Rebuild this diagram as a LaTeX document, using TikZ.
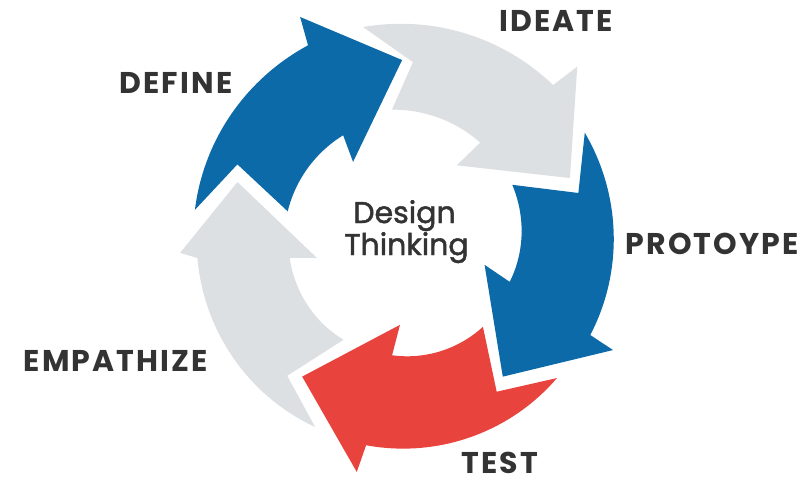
\documentclass[tikz,border=0pt]{standalone}
\usepackage{fontspec}
\setmainfont{Poppins}
\definecolor{bluec}{HTML}{0D6AA8}
\definecolor{redc}{HTML}{E8433C}
\definecolor{grayc}{HTML}{DDE0E3}
\definecolor{txtc}{HTML}{333333}
\tikzset{sarc/.style n args={4}{insert path={-- plot[domain=0:1,samples=40,variable=\s]({(#1)+((#3)-(#1))*\s}:{(#2)+((#4)-(#2))*\s})}}}
\begin{document}
\begin{tikzpicture}[x=1pt,y=1pt,
  lab/.style={text=txtc,font=\fontsize{30}{32}\selectfont\bfseries\addfontfeatures{LetterSpace=7},inner sep=0pt},
  ctr/.style={text=txtc,font=\fontsize{30}{32}\selectfont\addfontfeatures{FakeBold=1.6},inner sep=0pt,anchor=base}]
\useasboundingbox[fill=white] (0,0) rectangle (802,-479);
\begin{scope}[shift={(405,-245)}]
% DEFINE (blue)
\fill[bluec] (170.5:213) -- (154.3:186) -- (164:122) [sarc={164}{122}{119.4}{126}]
  -- (122:98) -- (90.9:185) -- (114.7:251) -- (115.9:222) [sarc={115.9}{222}{170.5}{213}] -- cycle;
% IDEATE (gray)
\fill[grayc] (100.9:222) -- (87.5:183) -- (95.5:136) [sarc={95.5}{136}{53.7}{127}]
  -- (57:95) -- (22.1:178) -- (46:248) -- (47.2:218) [sarc={47.2}{218}{100.9}{222}] -- cycle;
% PROTOYPE (blue)
\fill[bluec] (32:212) -- (16.7:181) -- (29.3:123) [sarc={29.3}{123}{-19.4}{111}]
  -- (-14:82) -- (-53.4:164) -- (-26.8:233) -- (-25.9:206) [sarc={-25.9}{206}{32}{212}] -- cycle;
% TEST (red)
\fill[redc] (-41.2:202) -- (-58:173) -- (-46.4:113) [sarc={-46.4}{113}{-96.7}{111}]
  -- (-93.6:80) -- (-128:167) -- (-102:232) -- (-101:204) [sarc={-101}{204}{-41.2}{202}] -- cycle;
% EMPATHIZE (gray)
\fill[grayc] (243.7:203) -- (228:176) -- (237:113) [sarc={237}{113}{186.4}{116}]
  -- (188.4:89) -- (159.4:179) -- (182:225) -- (183.6:208) [sarc={183.6}{208}{243.7}{203}] -- cycle;
\end{scope}
\node[lab] (define) at (176,-83) {DEFINE};
\node[lab] (ideate) at (556,-21) {IDEATE};
\node[lab] (proto) at (712,-244) {PROTOYPE};
\node[lab] (empath) at (116,-361) {EMPATHIZE};
\node[lab] (test) at (500,-463) {TEST};
\node[ctr] (dt1) at (404.5,-223) {Design};
\node[ctr] (dt2) at (406.5,-255) {Thinking};
\end{tikzpicture}
\end{document}
